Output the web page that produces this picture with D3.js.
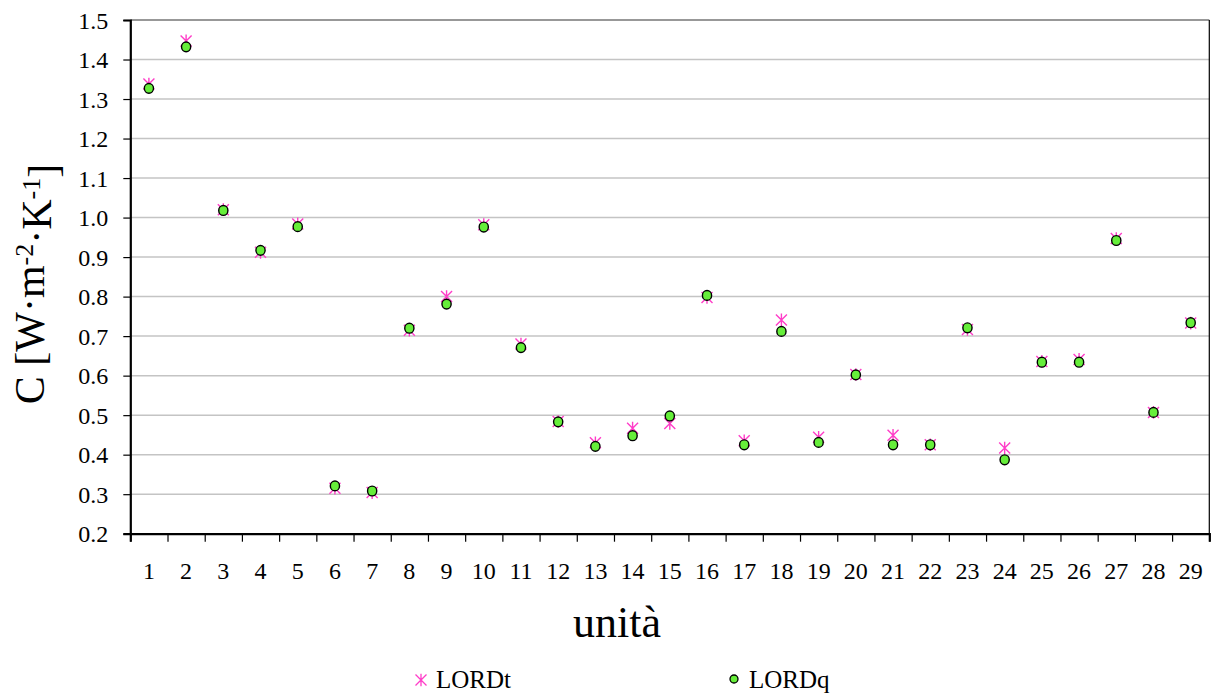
<!DOCTYPE html>
<html>
<head>
<meta charset="utf-8">
<script src="https://cdn.jsdelivr.net/npm/d3@7"></script>
<style>
  html, body { margin: 0; padding: 0; background: #fff; }
  svg { display: block; }
</style>
</head>
<body>
<svg id="chart" width="1213" height="697"></svg>
<script>
// Units on the horizontal axis
const units = d3.range(1, 30);

// Heat transfer coefficient C [W·m-2·K-1] per unit, two estimation methods
const lordT = [1.338, 1.447, 1.020, 0.912, 0.984, 0.315, 0.304, 0.715, 0.800, 0.982,
               0.680, 0.484, 0.430, 0.467, 0.479, 0.798, 0.435, 0.741, 0.444, 0.603,
               0.449, 0.425, 0.717, 0.417, 0.636, 0.641, 0.947, 0.507, 0.733];
const lordQ = [1.327, 1.432, 1.018, 0.917, 0.977, 0.321, 0.308, 0.720, 0.781, 0.976,
               0.671, 0.483, 0.421, 0.448, 0.498, 0.803, 0.425, 0.712, 0.431, 0.602,
               0.425, 0.425, 0.721, 0.387, 0.634, 0.634, 0.942, 0.507, 0.734];

const seriesNames = ["LORDt", "LORDq"];
const yTicks = d3.range(2, 16).map(d => d / 10);

const FONT = '"Liberation Serif", Tinos, "Times New Roman", "DejaVu Serif", serif';

const svg = d3.select("#chart").attr("font-family", FONT);
const plotLeft = 130.3, plotRight = 1209.3, plotTop = 20, plotBottom = 533.7;

const x = d3.scaleBand().domain(units).range([plotLeft, plotRight]).padding(0);
const xEdge = d3.scaleLinear().domain([0, units.length]).range([plotLeft, plotRight]);
const y = d3.scaleLinear().domain([0.2, 1.5]).range([plotBottom, plotTop]);

// Horizontal gridlines
svg.append("g")
  .selectAll("line")
  .data(yTicks.filter(t => t > 0.2 && t < 1.5))
  .join("line")
  .attr("x1", plotLeft).attr("x2", plotRight)
  .attr("y1", d => y(d)).attr("y2", d => y(d))
  .attr("stroke", "#c4c4c4").attr("stroke-width", 1.5);

// Top and right frame
svg.append("line").attr("x1", plotLeft).attr("x2", plotRight).attr("y1", plotTop).attr("y2", plotTop)
  .attr("stroke", "#333").attr("stroke-width", 1.2);
svg.append("line").attr("x1", plotRight).attr("x2", plotRight).attr("y1", plotTop).attr("y2", plotBottom)
  .attr("stroke", "#000").attr("stroke-width", 1.2);

// Y axis
const yAxis = svg.append("g")
  .attr("transform", `translate(${plotLeft},0)`)
  .call(d3.axisLeft(y).tickValues(yTicks).tickFormat(d3.format(".1f")).tickSize(7).tickPadding(15))
  .attr("font-family", FONT);
yAxis.select(".domain").attr("stroke", "#000").attr("stroke-width", 2.2);
yAxis.selectAll(".tick line").attr("stroke", "#000").attr("stroke-width", 1.2);
yAxis.selectAll(".tick text").attr("font-size", 24).attr("fill", "#000").attr("dy", "0.34em");

// X axis: ticks on category boundaries, labels on category centres
const xTickAxis = svg.append("g")
  .attr("transform", `translate(0,${plotBottom})`)
  .call(d3.axisBottom(xEdge).tickValues(d3.range(0, units.length + 1)).tickFormat("").tickSize(8));
xTickAxis.select(".domain").attr("stroke", "#000").attr("stroke-width", 2.2);
xTickAxis.selectAll(".tick line").attr("stroke", "#000").attr("stroke-width", 1.2);

const xLabelAxis = svg.append("g")
  .attr("transform", `translate(0,${plotBottom})`)
  .call(d3.axisBottom(x).tickSize(0).tickPadding(28))
  .attr("font-family", FONT);
xLabelAxis.select(".domain").remove();
xLabelAxis.selectAll(".tick text").attr("font-size", 24).attr("fill", "#000");

// Axis titles
svg.append("text")
  .attr("x", 617).attr("y", 637)
  .attr("text-anchor", "middle")
  .attr("font-size", 44)
  .text("unità");

const yTitle = svg.append("text")
  .attr("transform", "translate(44,284) rotate(-90)")
  .attr("text-anchor", "middle")
  .attr("font-size", 42);
yTitle.append("tspan").text("C [W·m");
yTitle.append("tspan").attr("dy", "-0.42em").attr("font-size", 26).text("-2");
yTitle.append("tspan").attr("dy", "0.42em").text("·K");
yTitle.append("tspan").attr("dy", "-0.42em").attr("font-size", 26).text("-1");
yTitle.append("tspan").attr("dy", "0.42em").text("]");

// Marker shapes
const starPath = s => `M${-s},${-s}L${s},${s}M${-s},${s}L${s},${-s}M0,${-s * 1.15}L0,${s * 1.15}`;
const pink = "#ff3dc8";
const green = "#66ee3a";

// LORDt series (asterisks)
svg.append("g")
  .selectAll("path")
  .data(lordT)
  .join("path")
  .attr("transform", (d, i) => `translate(${x(units[i]) + x.bandwidth() / 2},${y(d)})`)
  .attr("d", starPath(5.5))
  .attr("fill", "none").attr("stroke", pink).attr("stroke-width", 1.4);

// LORDq series (circles)
svg.append("g")
  .selectAll("ellipse")
  .data(lordQ)
  .join("ellipse")
  .attr("cx", (d, i) => x(units[i]) + x.bandwidth() / 2)
  .attr("cy", d => y(d))
  .attr("rx", 4.6).attr("ry", 4.9)
  .attr("fill", green).attr("stroke", "#000").attr("stroke-width", 1.4);

// Legend
const legend = svg.append("g");
legend.append("path")
  .attr("transform", "translate(421,680)")
  .attr("d", starPath(5.5))
  .attr("fill", "none").attr("stroke", pink).attr("stroke-width", 1.3);
legend.append("text").attr("x", 436).attr("y", 688).attr("font-size", 25).text(seriesNames[0]);
legend.append("circle")
  .attr("cx", 734).attr("cy", 679).attr("r", 4)
  .attr("fill", green).attr("stroke", "#000").attr("stroke-width", 1.3);
legend.append("text").attr("x", 749).attr("y", 688).attr("font-size", 25).text(seriesNames[1]);
</script>
</body>
</html>
